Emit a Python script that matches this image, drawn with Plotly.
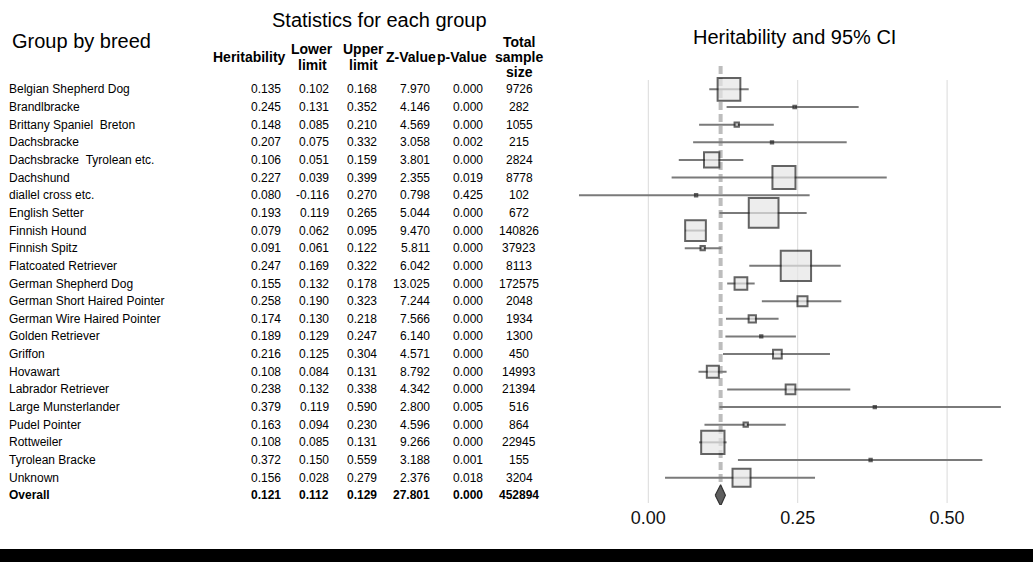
import plotly.graph_objects as go

# ---------------- data ----------------
groups = [
    "Belgian Shepherd Dog", "Brandlbracke", "Brittany Spaniel  Breton", "Dachsbracke",
    "Dachsbracke  Tyrolean etc.", "Dachshund", "diallel cross etc.", "English Setter",
    "Finnish Hound", "Finnish Spitz", "Flatcoated Retriever", "German Shepherd Dog",
    "German Short Haired Pointer", "German Wire Haired Pointer", "Golden Retriever",
    "Griffon", "Hovawart", "Labrador Retriever", "Large Munsterlander", "Pudel Pointer",
    "Rottweiler", "Tyrolean Bracke", "Unknown", "Overall",
]
heritability = [0.135, 0.245, 0.148, 0.207, 0.106, 0.227, 0.080, 0.193, 0.079, 0.091, 0.247, 0.155,
                0.258, 0.174, 0.189, 0.216, 0.108, 0.238, 0.379, 0.163, 0.108, 0.372, 0.156, 0.121]
lower_limit = [0.102, 0.131, 0.085, 0.075, 0.051, 0.039, -0.116, 0.119, 0.062, 0.061, 0.169, 0.132,
               0.190, 0.130, 0.129, 0.125, 0.084, 0.132, 0.119, 0.094, 0.085, 0.150, 0.028, 0.112]
upper_limit = [0.168, 0.352, 0.210, 0.332, 0.159, 0.399, 0.270, 0.265, 0.095, 0.122, 0.322, 0.178,
               0.323, 0.218, 0.247, 0.304, 0.131, 0.338, 0.590, 0.230, 0.131, 0.559, 0.279, 0.129]
z_value = [7.970, 4.146, 4.569, 3.058, 3.801, 2.355, 0.798, 5.044, 9.470, 5.811, 6.042, 13.025,
           7.244, 7.566, 6.140, 4.571, 8.792, 4.342, 2.800, 4.596, 9.266, 3.188, 2.376, 27.801]
p_value = [0.000, 0.000, 0.000, 0.002, 0.000, 0.019, 0.425, 0.000, 0.000, 0.000, 0.000, 0.000,
           0.000, 0.000, 0.000, 0.000, 0.000, 0.000, 0.005, 0.000, 0.000, 0.001, 0.018, 0.000]
sample_size = [9726, 282, 1055, 215, 2824, 8778, 102, 672, 140826, 37923, 8113, 172575,
               2048, 1934, 1300, 450, 14993, 21394, 516, 864, 22945, 155, 3204, 452894]
# relative weight (%) of each group
weight_pct = [9.74, 0.35, 0.64, 0.30, 4.77, 9.98, 0.30, 16.04, 8.22, 0.64, 16.65, 3.45,
              2.30, 1.38, 0.30, 1.83, 3.13, 2.19, 0.30, 0.64, 10.21, 0.30, 6.38]

x_ticks = [0.0, 0.25, 0.50]
x_tick_labels = ["0.00", "0.25", "0.50"]

col_headers = ["Heritability", "Lower limit", "Upper limit", "Z-Value", "p-Value", "Total sample size"]

# ---------------- layout constants ----------------
W, H = 1033, 562
ROW0, ROWH = 89.35, 17.65          # pixel y of first row, row pitch
PLOT_BOTTOM = 505                   # pixel y of plot bottom
X0_PX, PX_PER_UNIT = 648.3, 597.6   # pixel x of value 0, pixels per unit
FONT = "Liberation Sans, Arial, sans-serif"


def row_of(py):
    return (py - ROW0) / ROWH


def px(x):
    return x / W


def py(y):
    return 1 - y / H


n = len(groups)
nb = n - 1
rows = list(range(n))

fig = go.Figure()

# whiskers + squares for breeds
sizes = [(w ** 0.5) * 7.92 - 2 for w in weight_pct]
fig.add_trace(go.Scatter(
    x=heritability[:nb], y=rows[:nb], mode="markers",
    marker=dict(symbol="square", size=sizes, color="#e6e6e6",
                line=dict(color="#222222", width=2)),
    error_x=dict(type="data", symmetric=False,
                 array=[u - h for u, h in zip(upper_limit[:nb], heritability[:nb])],
                 arrayminus=[h - l for h, l in zip(heritability[:nb], lower_limit[:nb])],
                 color="#7a7a7a", thickness=2, width=0),
    hoverinfo="skip",
))

# overall diamond
yo = rows[-1]
fig.add_trace(go.Scatter(
    x=[lower_limit[-1], heritability[-1], upper_limit[-1], heritability[-1], lower_limit[-1]],
    y=[yo, yo - 0.6, yo, yo + 0.6, yo],
    mode="lines", fill="toself", fillcolor="#5e5e5e",
    line=dict(color="#333333", width=1.2), hoverinfo="skip",
))

shapes = []
for t in x_ticks:
    shapes.append(dict(type="line", xref="x", yref="y", x0=t, x1=t,
                       y0=row_of(80), y1=row_of(503),
                       line=dict(color="#dadada", width=1), layer="below"))
shapes.append(dict(type="line", xref="x", yref="y", x0=heritability[-1], x1=heritability[-1],
                   y0=row_of(66), y1=yo - 0.6,
                   line=dict(color="#bdbdbd", width=4, dash="8px,4px"), layer="below"))
shapes.append(dict(type="rect", xref="paper", yref="paper", x0=0, x1=1,
                   y0=0, y1=py(549), fillcolor="black", line=dict(width=0)))

ann = []


def text(x, y, s, size=12, bold=False, xanchor="center", yref="paper"):
    ann.append(dict(x=x, y=y, xref="paper", yref=yref, text=(f"<b>{s}</b>" if bold else s),
                    showarrow=False, xanchor=xanchor, yanchor="middle",
                    font=dict(family=FONT, size=size, color="black")))


# titles
text(px(10), py(41), "Group by breed", size=20, xanchor="left")
text(px(379), py(20), "Statistics for each group", size=20)
text(px(794), py(37), "Heritability and 95% CI", size=20)

# column headers (centres and line positions)
hdr_x = [249, 312, 363, 411, 462, 519]
for hx, h in zip(hdr_x, col_headers):
    parts = h.split(" ")
    if len(parts) == 1:
        text(px(hx), py(57), h, size=14, bold=True)
    elif len(parts) == 2:
        text(px(hx), py(49), parts[0], size=14, bold=True)
        text(px(hx), py(64.5), parts[1], size=14, bold=True)
    else:
        for k, p in enumerate(parts):
            text(px(hx), py(42 + 15 * k), p, size=14, bold=True)

# table rows
col_right = [283, 330.6, 378.7, 431.8, 484.5]
for i in rows:
    b = (i == n - 1)
    name = groups[i].replace("  ", " \u00a0")
    text(px(7), i, name, bold=b, xanchor="left", yref="y")
    vals = [heritability[i], lower_limit[i], upper_limit[i], z_value[i], p_value[i]]
    for cx, v in zip(col_right, vals):
        text(px(cx), i, f"{v:.3f}", bold=b, xanchor="right", yref="y")
    text(px(519), i, f"{sample_size[i]}", bold=b, yref="y")

fig.update_layout(
    width=W, height=H, margin=dict(l=0, r=0, t=0, b=0),
    paper_bgcolor="white", plot_bgcolor="white", showlegend=False, hovermode=False,
    xaxis=dict(domain=[0, 1], range=[(0 - X0_PX) / PX_PER_UNIT, (W - X0_PX) / PX_PER_UNIT],
               showgrid=False, zeroline=False, showline=False, ticks="",
               tickvals=x_ticks, ticktext=x_tick_labels,
               tickfont=dict(family=FONT, size=18, color="#111111"), fixedrange=True),
    yaxis=dict(domain=[1 - PLOT_BOTTOM / H, 1], range=[row_of(PLOT_BOTTOM), row_of(0)],
               visible=False, fixedrange=True),
    shapes=shapes, annotations=ann,
)

fig.write_html(
    "out.html",
    config={"displayModeBar": False, "staticPlot": True},
    post_script="document.body.style.margin='0px';document.body.style.overflow='hidden';",
)
